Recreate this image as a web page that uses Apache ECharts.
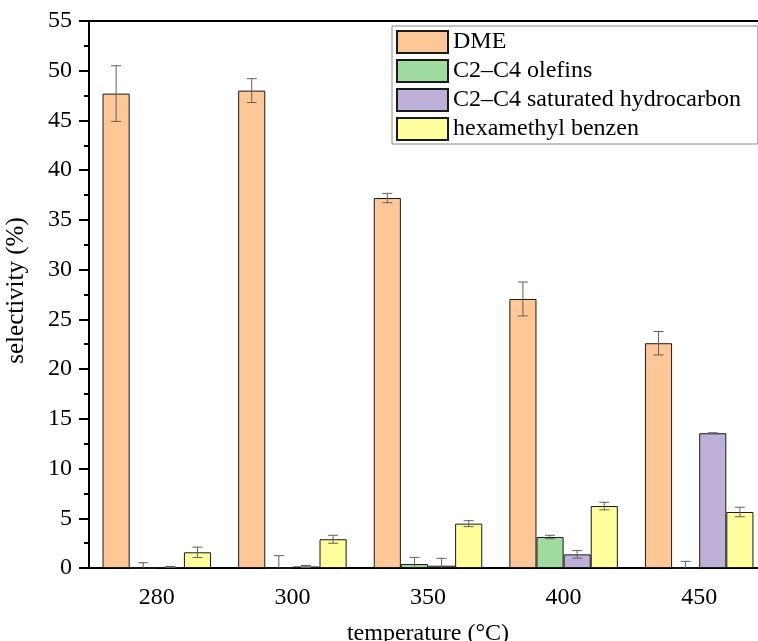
<!DOCTYPE html>
<html>
<head>
<meta charset="utf-8">
<script src="https://cdn.jsdelivr.net/npm/echarts@6/dist/echarts.min.js"></script>
<style>
  html, body { margin: 0; padding: 0; background: #fff; }
  #chart { width: 758px; height: 641px; }
</style>
</head>
<body>
<div id="chart"></div>
<script>
// Reaction temperatures (°C)
const categories = ['280', '300', '350', '400', '450'];

// Product selectivity (%) and standard deviations
const dme = [47.7, 48.0, 37.2, 27.05, 22.6];
const dmeErr = [2.8, 1.2, 0.47, 1.7, 1.18];

const olefins = [0, 0, 0.4, 3.12, 0];
const olefinsErr = [0.53, 1.24, 0.67, 0.17, 0.67];

const saturated = [0.1, 0.15, 0.23, 1.37, 13.55];
const saturatedErr = [0.05, 0.1, 0.74, 0.38, 0.05];

const hmb = [1.58, 2.89, 4.46, 6.23, 5.63];
const hmbErr = [0.52, 0.4, 0.3, 0.38, 0.48];

const seriesNames = ['DME', 'C2\u2013C4 olefins', 'C2\u2013C4 saturated hydrocarbon', 'hexamethyl benzen'];
const seriesValues = [dme, olefins, saturated, hmb];
const seriesErrors = [dmeErr, olefinsErr, saturatedErr, hmbErr];
const colors = ['#FDC797', '#A0DA9E', '#BFB0D8', '#FFFE9C'];

const FONT = '"Liberation Serif", "Times New Roman", serif';
const CATEGORY_GAP = 0.2;   // fraction of band left empty
const N = seriesNames.length;

const chart = echarts.init(document.getElementById('chart'), null, { renderer: 'canvas' });

const barSeries = seriesNames.map((name, s) => ({
  name: name,
  type: 'bar',
  data: seriesValues[s],
  barGap: '0%',
  barCategoryGap: (CATEGORY_GAP * 100) + '%',
  itemStyle: { color: colors[s], borderColor: '#1a1a1a', borderWidth: 1 },
  emphasis: { disabled: true }
}));

// Error bars drawn on top of each bar, positioned from the category band
const errorSeries = seriesNames.map((name, s) => ({
  type: 'custom',
  name: name + ' error',
  clip: true,
  z: 5,
  data: seriesValues[s].map((v, i) => [i, v - seriesErrors[s][i], v + seriesErrors[s][i]]),
  renderItem: function (params, api) {
    const i = api.value(0);
    const lo = api.coord([i, api.value(1)]);
    const hi = api.coord([i, api.value(2)]);
    const band = api.size([1, 0])[0];
    const bw = band * (1 - CATEGORY_GAP) / N;
    const x = lo[0] + (s - (N - 1) / 2) * bw;
    const cap = 5;
    const style = { stroke: '#606060', lineWidth: 1 };
    return {
      type: 'group',
      children: [
        { type: 'line', shape: { x1: x, y1: lo[1], x2: x, y2: hi[1] }, style: style },
        { type: 'line', shape: { x1: x - cap, y1: hi[1], x2: x + cap, y2: hi[1] }, style: style },
        { type: 'line', shape: { x1: x - cap, y1: lo[1], x2: x + cap, y2: lo[1] }, style: style }
      ]
    };
  }
}));

chart.setOption({
  animation: false,
  backgroundColor: '#fff',
  textStyle: { fontFamily: FONT, color: '#000' },
  grid: {
    left: 89, top: 21, width: 678, height: 547,
    outerBoundsMode: 'none',
    containLabel: false,
    show: true, borderColor: '#000', borderWidth: 2, backgroundColor: 'transparent'
  },
  legend: {
    data: seriesNames,
    orient: 'vertical',
    left: 392,
    top: 26,
    itemWidth: 51,
    itemHeight: 22,
    itemGap: 5,
    itemTextGap: 6,
    padding: [4, 17, 3, 4],
    borderColor: '#888',
    borderWidth: 1,
    icon: 'rect',
    selectedMode: false,
    textStyle: { fontFamily: FONT, fontSize: 24, color: '#000' }
  },
  xAxis: {
    type: 'category',
    data: categories,
    name: 'temperature (\u00B0C)',
    nameLocation: 'middle',
    nameGap: 54,
    nameTextStyle: { fontFamily: FONT, fontSize: 24, color: '#000' },
    axisLine: { lineStyle: { color: '#000', width: 2 } },
    axisTick: { alignWithLabel: true, length: 10, lineStyle: { color: '#000', width: 2 } },
    axisLabel: { fontFamily: FONT, fontSize: 24, color: '#000', margin: 18 },
    splitLine: { show: false }
  },
  yAxis: {
    type: 'value',
    min: 0, max: 55, interval: 5,
    name: 'selectivity (%)',
    nameLocation: 'middle',
    nameGap: 60,
    nameTextStyle: { fontFamily: FONT, fontSize: 25, color: '#000', padding: [0, 0, 0, 8] },
    axisLine: { show: true, lineStyle: { color: '#000', width: 2 } },
    axisTick: { show: true, length: 10, lineStyle: { color: '#000', width: 2 } },
    minorTick: { show: true, splitNumber: 2, length: 5, lineStyle: { color: '#000', width: 2 } },
    axisLabel: { fontFamily: FONT, fontSize: 24, color: '#000', margin: 17 },
    splitLine: { show: false }
  },
  series: barSeries.concat(errorSeries)
});
</script>
</body>
</html>
